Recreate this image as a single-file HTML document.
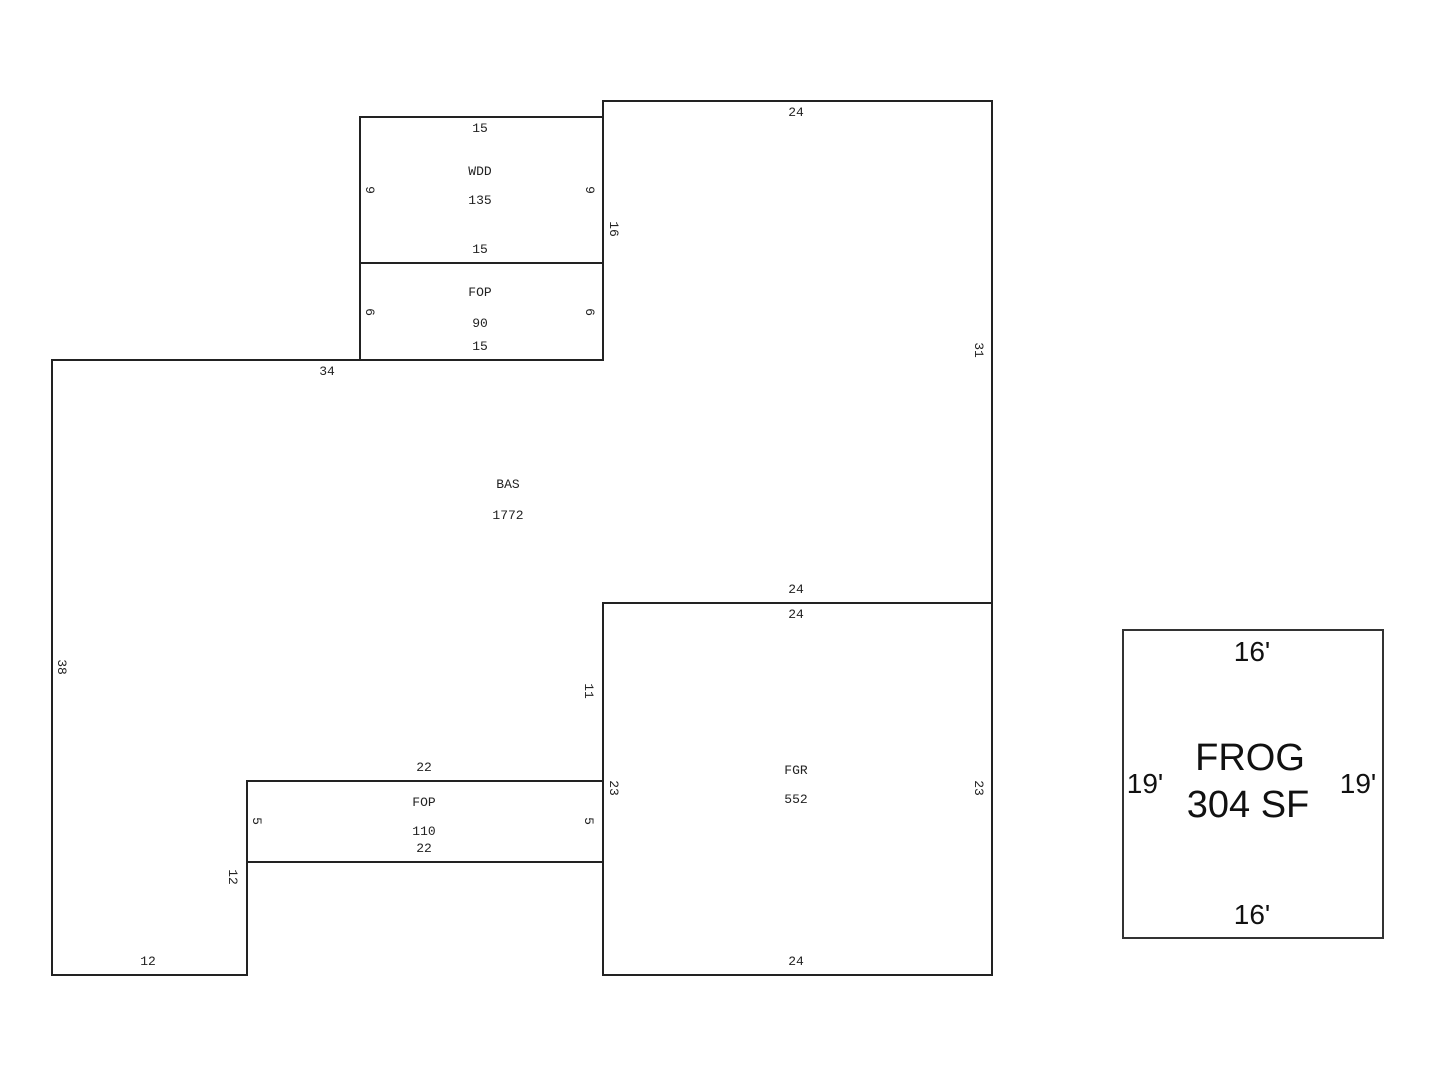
<!DOCTYPE html>
<html><head><meta charset="utf-8"><style>
html,body{margin:0;padding:0;background:#fff;}
svg{display:block}
.s{font-family:"Liberation Mono",monospace;font-size:13px;fill:#222;text-anchor:middle;}
.b{font-family:"Liberation Sans",Arial,sans-serif;fill:#111;text-anchor:middle;}
</style></head><body>
<svg width="1440" height="1080" viewBox="0 0 1440 1080" xmlns="http://www.w3.org/2000/svg">
<g fill="none" stroke="#222" stroke-width="2">
<polyline points="603,360 603,101 992,101 992,603"/>
<rect x="360" y="117" width="243" height="146"/>
<rect x="360" y="263" width="243" height="97"/>
<polyline points="360,360 52,360 52,975 247,975 247,781"/>
<rect x="247" y="781" width="356" height="81"/>
<rect x="603" y="603" width="389" height="372"/>
<rect x="1123" y="630" width="260" height="308" stroke="#333"/>
</g>
<g class="s">
<text x="480" y="132">15</text>
<text x="480" y="175">WDD</text>
<text x="480" y="204">135</text>
<text x="480" y="253">15</text>
<text x="480" y="296">FOP</text>
<text x="480" y="327">90</text>
<text x="480" y="350">15</text>
<text x="796" y="116">24</text>
<text x="327" y="375">34</text>
<text x="508" y="488">BAS</text>
<text x="508" y="519">1772</text>
<text x="796" y="593">24</text>
<text x="796" y="618">24</text>
<text x="424" y="771">22</text>
<text x="424" y="806">FOP</text>
<text x="424" y="835">110</text>
<text x="424" y="852">22</text>
<text x="796" y="774">FGR</text>
<text x="796" y="803">552</text>
<text x="148" y="965">12</text>
<text x="796" y="965">24</text>
<text transform="translate(366,190) rotate(90)">9</text>
<text transform="translate(586,190) rotate(90)">9</text>
<text transform="translate(610,229) rotate(90)">16</text>
<text transform="translate(366,312) rotate(90)">6</text>
<text transform="translate(586,312) rotate(90)">6</text>
<text transform="translate(975,350) rotate(90)">31</text>
<text transform="translate(58,667) rotate(90)">38</text>
<text transform="translate(585,691) rotate(90)">11</text>
<text transform="translate(610,788) rotate(90)">23</text>
<text transform="translate(975,788) rotate(90)">23</text>
<text transform="translate(253,821) rotate(90)">5</text>
<text transform="translate(585,821) rotate(90)">5</text>
<text transform="translate(229,877) rotate(90)">12</text>
</g>
<g class="b">
<text x="1252" y="661" font-size="28">16'</text>
<text x="1250" y="770" font-size="38">FROG</text>
<text x="1248" y="817" font-size="38">304 SF</text>
<text x="1145" y="793" font-size="28">19'</text>
<text x="1358" y="793" font-size="28">19'</text>
<text x="1252" y="924" font-size="28">16'</text>
</g>
</svg>
</body></html>
